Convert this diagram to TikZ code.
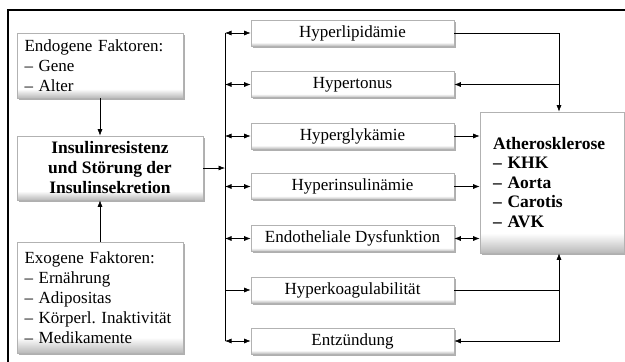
\documentclass[tikz,border=0pt]{standalone}
\usepackage{fontspec}
\setmainfont{Liberation Serif}
\usetikzlibrary{arrows.meta,shadows}
\pgfdeclareverticalshading{boxshade}{100bp}{color(0bp)=(gray!55); color(25bp)=(gray!55); color(32bp)=(white); color(100bp)=(white)}
\begin{document}
\frenchspacing
\hyphenpenalty=10000
\begin{tikzpicture}[x=1pt,y=-1pt,
  box/.style={draw=gray!60, line width=0.6pt, shading=boxshade,
    drop shadow={shadow xshift=1.6pt, shadow yshift=-1.6pt, fill=gray!70, opacity=0.9},
    font=\fontsize{17}{20}\selectfont, inner sep=0pt},
  rbox/.style={box, minimum width=203pt, minimum height=26pt},
  arr/.style={-{Latex[length=6.5pt,width=5pt]}, line width=0.6pt},
  darr/.style={{Latex[length=6.5pt,width=5pt]}-{Latex[length=6.5pt,width=5pt]}, line width=0.6pt},
  ln/.style={line width=0.6pt}]
\useasboundingbox (0,0) rectangle (625,362);
% frame
\draw[line width=1.2pt] (8,362) -- (8,10) -- (625,10);
% left boxes
\node[box, minimum width=166pt, minimum height=65pt, text width=151pt, align=left] (endo) at (100,65.5)
  {Endogene Faktoren:\\– Gene\\– Alter};
\node[box, minimum width=186pt, minimum height=64pt, align=center, font=\fontsize{17.5}{20}\selectfont\bfseries] (ins) at (110,168)
  {Insulinresistenz\\und Störung der\\Insulinsekretion};
\node[box, minimum width=166pt, minimum height=111pt, text width=151pt, align=left] (exo) at (100,297.5)
  {Exogene Faktoren:\\– Ernährung\\– Adipositas\\– Körperl. Inaktivität\\– Medikamente};
% right column boxes
\node[rbox] (r1) at (352.5,33) {Hyperlipidämie};
\node[rbox] (r2) at (352.5,84.5) {Hypertonus};
\node[rbox] (r3) at (352.5,136) {Hyperglykämie};
\node[rbox] (r4) at (352.5,186.5) {Hyperinsulinämie};
\node[rbox] (r5) at (352.5,238.5) {Endotheliale Dysfunktion};
\node[rbox] (r6) at (352.5,290) {Hyperkoagulabilität};
\node[rbox] (r7) at (352.5,341) {Entzündung};
% athero
\node[box, minimum width=144pt, minimum height=141pt, text width=118pt, align=left, font=\fontsize{17.5}{19.5}\selectfont\bfseries] (ath) at (552,182.5)
  {Atherosklerose\\– KHK\\– Aorta\\– Carotis\\– AVK};
% left connectors
\draw[arr] (endo.south) -- (ins.north -| endo.south);
\draw[arr] (exo.north) -- (ins.south -| exo.north);
\coordinate (bt) at (225,33);
\coordinate (bb) at (225,341);
\draw[ln] (bt) -- (bb);
\draw[arr] (ins.east) -- (ins.east -| bt);
\foreach \r in {r1,r2,r3,r4,r5,r7} \draw[darr] (\r.west -| bt) -- (\r.west);
\draw[arr] (r6.west -| bt) -- (r6.west);
% right connectors
\coordinate (rt) at (559,33);
\draw[arr] (r1.east) -- (rt) -- (rt |- ath.north);
\draw[arr] (rt |- r2.east) -- (r2.east);
\draw[arr] (r3.east) -- (r3.east -| ath.west);
\draw[arr] (r4.east) -- (r4.east -| ath.west);
\draw[darr] (r5.east) -- (r5.east -| ath.west);
\draw[arr] (r6.east) -- (r6.east -| rt) -- (rt |- ath.south);
\draw[arr] (r6.east -| rt) -- (rt |- r7.east) -- (r7.east);
\end{tikzpicture}
\end{document}
